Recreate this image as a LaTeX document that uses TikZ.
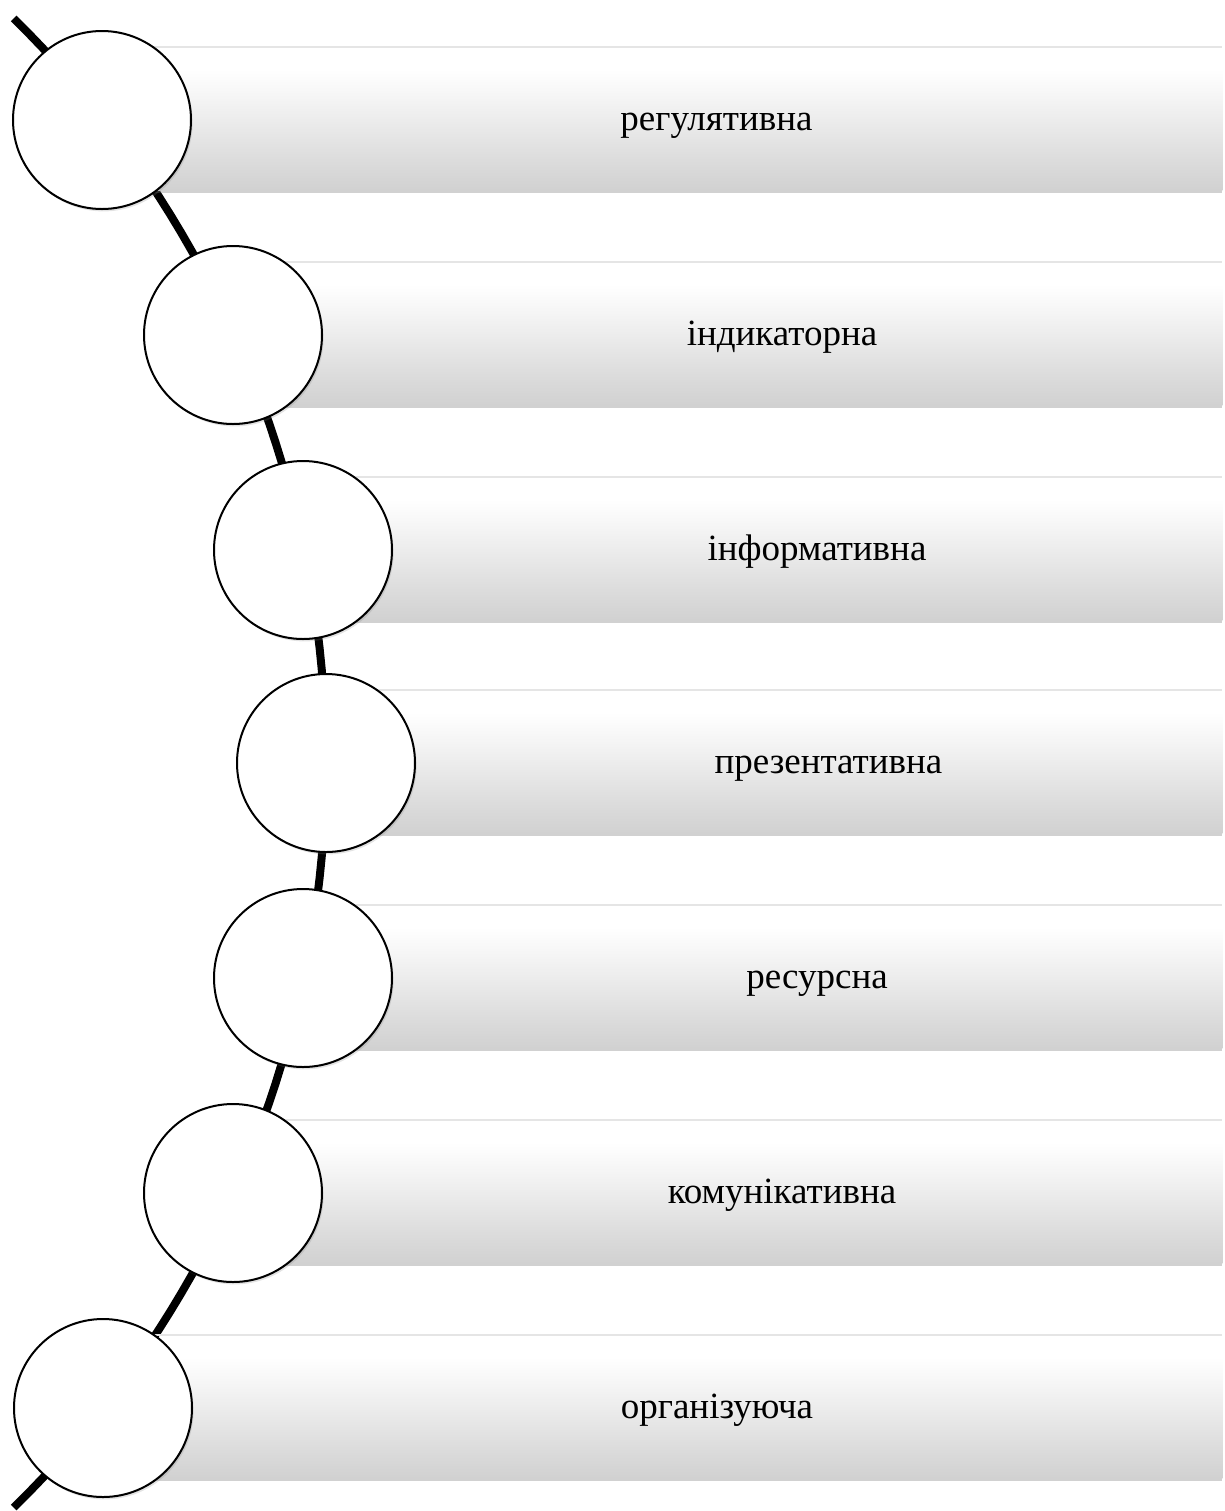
\documentclass[tikz,border=0pt]{standalone}
\usepackage{fontspec}
\setmainfont{Liberation Serif}
\usetikzlibrary{shadows}
\pgfdeclareverticalshading{barshade}{100bp}{color(0bp)=(black!55); color(2bp)=(black!45); color(4bp)=(black!30); color(10bp)=(black!24); color(35bp)=(black!14); color(58bp)=(black!4); color(68bp)=(white); color(100bp)=(white)}
\begin{document}
\begin{tikzpicture}[x=0.5pt,y=-0.5pt,
  barbox/.style={rectangle, inner sep=0pt, minimum height=70pt, anchor=west,
    shading=barshade, draw=none,
    drop shadow={shadow xshift=0pt, shadow yshift=-1.5pt, opacity=0.3, fill=black!60}},
  ring/.style={circle, draw=black, line width=1pt, fill=white, inner sep=0pt, minimum size=89pt,
    drop shadow={shadow xshift=0.8pt, shadow yshift=-1.2pt, opacity=0.22}},
  lbl/.style={font=\fontsize{18.5}{22}\selectfont, inner sep=0pt, anchor=base},
  spine/.style={line width=4pt}]
\useasboundingbox (0,0) rectangle (1225,1511);
% spine
\coordinate (top) at (13.8,18.4);
\draw[spine] plot[domain=-45.5:45.5, samples=80, variable=\t] ({-718+1044*cos(\t)}, {763+1044*sin(\t)});
% bars
\foreach \i/\cx/\cy in {1/102/120, 2/233/335, 3/303/550, 4/326/763, 5/303/978, 6/233/1193, 7/103/1408}{
  \draw[black!10, line width=0.6pt] (\cx,\cy-73) -- (1222,\cy-73);
  \pgfmathsetmacro{\w}{(1222-\cx)*0.5}
  \node[barbox, minimum width=\w pt] (b\i) at (\cx,\cy) {};
}
% circles and labels
\foreach \i/\cx/\cy/\txt in {1/102/120/регулятивна, 2/233/335/індикаторна, 3/303/550/інформативна, 4/326/763/презентативна, 5/303/978/ресурсна, 6/233/1193/комунікативна, 7/103/1408/організуюча}{
  \node[ring] (c\i) at (\cx,\cy) {};
  \pgfmathsetmacro{\tx}{(\cx+89+1222)/2+10}
  \node[lbl] (t\i) at (\tx,\cy+10) {\txt};
}
\end{tikzpicture}
\end{document}
